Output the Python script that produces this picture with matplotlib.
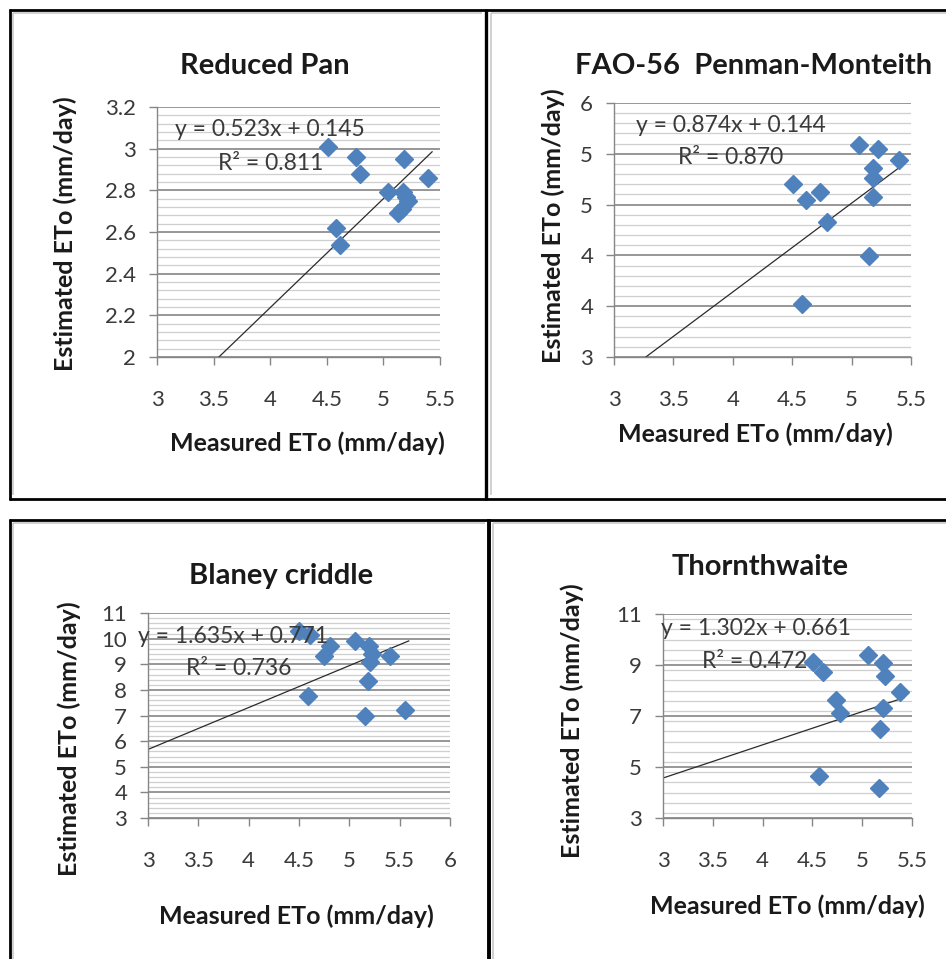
import numpy as np
import matplotlib
matplotlib.use("Agg")
import matplotlib.pyplot as plt
from matplotlib.lines import Line2D
from matplotlib.ticker import MultipleLocator

plt.rcParams['font.family'] = ['Lato', 'DejaVu Sans']

# Reduced Pan
rp_x = [4.51, 4.76, 4.79, 5.18, 5.39, 5.04, 5.17, 5.20, 5.22, 5.16, 5.13, 4.58, 4.62]
rp_y = [3.01, 2.96, 2.88, 2.95, 2.86, 2.79, 2.79, 2.77, 2.75, 2.71, 2.69, 2.62, 2.54]
rp_fit = (0.523, 0.145, 0.811)

# FAO-56 Penman-Monteith
pm_x = [5.06, 5.22, 5.40, 5.18, 5.18, 4.51, 4.73, 4.62, 5.18, 4.79, 5.15, 4.58]
pm_y = [5.09, 5.05, 4.94, 4.86, 4.76, 4.70, 4.62, 4.55, 4.57, 4.33, 3.99, 3.52]
pm_fit = (0.874, 0.144, 0.870)
pm_ylabels = ['3', '4', '4', '5', '5', '6']

# Blaney criddle
bc_x = [4.50, 4.61, 4.81, 4.75, 5.06, 5.20, 5.23, 5.21, 5.40, 5.19, 4.59, 5.16, 5.55]
bc_y = [10.28, 10.15, 9.70, 9.31, 9.89, 9.70, 9.41, 9.08, 9.34, 8.36, 7.78, 7.00, 7.23]
bc_fit = (1.635, 0.771, 0.736)

# Thornthwaite
th_x = [4.51, 4.61, 5.06, 5.21, 5.23, 5.38, 4.74, 4.78, 5.21, 5.18, 4.57, 5.17]
th_y = [9.13, 8.74, 9.39, 9.07, 8.55, 7.96, 7.63, 7.11, 7.31, 6.48, 4.66, 4.17]
th_fit = (1.302, 0.661, 0.472)

W, H = 946, 959
fig = plt.figure(figsize=(W / 100, H / 100), dpi=100)
fig.patch.set_facecolor('white')


def fx(px):
    return px / W


def fy(py):
    return 1 - py / H


def box(x0, y0, x1, y1):
    return [fx(x0), fy(y1), (x1 - x0) / W, (y1 - y0) / H]


panels = [
    dict(title='Reduced Pan', x=rp_x, y=rp_y, fit=rp_fit,
         rect=(157, 107, 440, 357), xmax=5.5, ylim=(2, 3.2), major=0.2, minor=0.04,
         ylabels=None, title_xy=(265, 66), ylab_xy=(65, 234), xlab_xy=(307, 443),
         eq_xy=(0.40, 0.908), r2_xy=(0.40, 0.776)),
    dict(title='FAO-56  Penman-Monteith', x=pm_x, y=pm_y, fit=pm_fit,
         rect=(614, 103, 911, 357), xmax=5.5, ylim=(3, 5.5), major=0.5, minor=0.1,
         ylabels=pm_ylabels, title_xy=(754, 66), ylab_xy=(553, 226), xlab_xy=(755, 434),
         eq_xy=(0.394, 0.913), r2_xy=(0.394, 0.787)),
    dict(title='Blaney criddle', x=bc_x, y=bc_y, fit=bc_fit,
         rect=(148, 613, 450, 818), xmax=6, ylim=(3, 11), major=1, minor=0.2,
         ylabels=None, title_xy=(281, 576), ylab_xy=(69, 739), xlab_xy=(296, 916),
         eq_xy=(0.281, 0.883), r2_xy=(0.30, 0.73)),
    dict(title='Thornthwaite', x=th_x, y=th_y, fit=th_fit,
         rect=(663, 614, 912, 818), xmax=5.5, ylim=(3, 11), major=2, minor=0.4,
         ylabels=None, title_xy=(760, 567), ylab_xy=(572, 721), xlab_xy=(787, 906),
         eq_xy=(0.373, 0.931), r2_xy=(0.37, 0.765)),
]

axis_grey = '#868686'
label_grey = '#3a3a3a'

for p in panels:
    ax = fig.add_axes(box(*p['rect']))
    ax.set_xlim(3, p['xmax'])
    ax.set_ylim(*p['ylim'])
    xt = np.arange(3, p['xmax'] + 1e-9, 0.5)
    ax.set_xticks(xt)
    ax.set_xticklabels([f'{v:g}' for v in xt])
    yt = np.arange(p['ylim'][0], p['ylim'][1] + 1e-9, p['major'])
    ax.set_yticks(yt)
    if p['ylabels'] is None:
        ax.set_yticklabels([f'{v:g}' for v in np.round(yt, 2)])
    else:
        ax.set_yticklabels(p['ylabels'])
    ax.yaxis.set_minor_locator(MultipleLocator(p['minor']))
    ax.grid(which='minor', axis='y', color='#cfcfcf', lw=0.9)
    ax.grid(which='major', axis='y', color='#7a7a7a', lw=1.1)
    ax.set_axisbelow(True)
    ax.tick_params(which='minor', length=0)
    ax.tick_params(which='major', direction='out', length=6, width=1, color=axis_grey,
                   labelsize=16, labelcolor=label_grey)
    ax.tick_params(axis='x', pad=18)
    ax.tick_params(axis='y', pad=9)
    for s in ('top', 'right'):
        ax.spines[s].set_visible(False)
    for s in ('left', 'bottom'):
        ax.spines[s].set_color(axis_grey)
        ax.spines[s].set_linewidth(1)

    ax.plot(p['x'], p['y'], 'D', ms=9.6, color='#4F81BD', mec='#4F81BD', zorder=3)

    slope, icpt, r2 = p['fit']
    xs = np.array([3, max(p['x']) + 0.04])
    ax.plot(xs, slope * xs + icpt, color='#2b2b2b', lw=0.9, zorder=2)

    ax.text(*p['eq_xy'], f'y = {slope:.3f}x + {icpt:.3f}', transform=ax.transAxes,
            ha='center', va='center', fontsize=16.5, color=label_grey, zorder=4)
    ax.text(*p['r2_xy'], f'R² = {r2:.3f}', transform=ax.transAxes,
            ha='center', va='center', fontsize=16.5, color=label_grey, zorder=4)

    tx, ty = p['title_xy']
    fig.text(fx(tx), fy(ty), p['title'], ha='center', va='center',
             fontsize=21, fontweight='bold', color='#1a1a1a')
    lx, ly = p['ylab_xy']
    fig.text(fx(lx), fy(ly), 'Estimated ETo (mm/day)', ha='center', va='center',
             rotation=90, fontsize=18, fontweight='bold', color='#1a1a1a')
    mx, my = p['xlab_xy']
    fig.text(fx(mx), fy(my), 'Measured ETo (mm/day)', ha='center', va='center',
             fontsize=18, fontweight='bold', color='#1a1a1a')


def fline(x0, y0, x1, y1, lw, color='black'):
    fig.add_artist(Line2D([fx(x0), fx(x1)], [fy(y0), fy(y1)], transform=fig.transFigure,
                          color=color, lw=lw, solid_capstyle='butt'))


# light chart-area frames inside each cell
for x0, y0, x1, y1 in [(13, 13, 482, 495), (491, 13, 946, 495),
                       (13, 523, 485, 959), (493, 523, 946, 959)]:
    fline(x0, y0, x1, y0, 1.2, '#c8c8c8')
    fline(x0, y0, x0, y1, 1.2, '#c8c8c8')

# table cell borders
fline(8.5, 10, 946, 10, 2)
fline(10, 9, 10, 500, 2)
fline(8.5, 499, 946, 499, 2)
fline(485.5, 9, 485.5, 500, 2.4)
fline(8.5, 519.5, 946, 519.5, 2)
fline(10, 518.5, 10, 959, 2)
fline(489, 518.5, 489, 959, 2.8)

fig.savefig('out.png', dpi=100, facecolor='white')
